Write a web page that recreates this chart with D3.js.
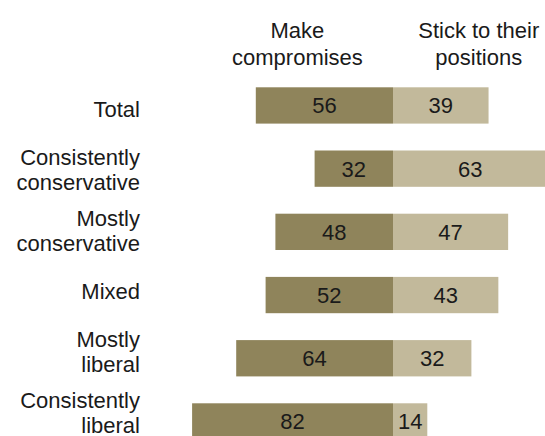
<!DOCTYPE html>
<html>
<head>
  <meta charset="utf-8">
  <style>
    body { margin: 0; background: #fff; }
    svg { display: block; }
    text { font-family: "Liberation Sans", Arial, sans-serif; fill: #1a1a1a; }
  </style>
</head>
<body>
  <div id="chart"></div>
  <script src="https://d3js.org/d3.v7.min.js"></script>
  <script>
    // data
    var categories = ["Total", "Consistently\nconservative", "Mostly\nconservative",
                      "Mixed", "Mostly\nliberal", "Consistently\nliberal"]
    var compromise = [56, 32, 48, 52, 64, 82]
    var stick = [39, 63, 47, 43, 32, 14]
    var headers = ["Make\ncompromises", "Stick to their\npositions"]

    var width = 545, height = 436
    var center = 393
    var fontSize = 22

    var svg = d3.select("#chart").append("svg")
        .attr("width", width)
        .attr("height", height)

    var x = d3.scaleLinear().domain([0, 100]).range([0, 245])

    var y = d3.scaleBand()
        .domain(categories)
        .range([87.3, 87.3 + 5 * 63.2 + 36.3])
        .paddingInner(0.4256)
        .paddingOuter(0)

    // labels sit on a slightly tighter grid than the bars
    var yLabel = d3.scalePoint()
        .domain(categories)
        .range([117, 420.5])

    var rows = categories.map(function (c, i) {
      return {cat: c, left: compromise[i], right: stick[i]}
    })

    var g = svg.append("g")

    // left bars (make compromises)
    g.selectAll("rect.left")
        .data(rows)
        .enter().append("rect")
        .attr("class", "left")
        .attr("x", d => center - x(d.left))
        .attr("y", d => y(d.cat))
        .attr("width", d => x(d.left))
        .attr("height", y.bandwidth())
        .attr("fill", "#8f845b")

    // right bars (stick to positions)
    g.selectAll("rect.right")
        .data(rows)
        .enter().append("rect")
        .attr("class", "right")
        .attr("x", center)
        .attr("y", d => y(d.cat))
        .attr("width", d => x(d.right))
        .attr("height", y.bandwidth())
        .attr("fill", "#c2b99b")

    // value labels
    g.selectAll("text.lv")
        .data(rows)
        .enter().append("text")
        .attr("class", "lv")
        .attr("x", d => center - x(d.left) / 2)
        .attr("y", d => y(d.cat) + y.bandwidth() / 2 + 8)
        .attr("text-anchor", "middle")
        .style("font-size", fontSize + "px")
        .text(d => d.left)

    g.selectAll("text.rv")
        .data(rows)
        .enter().append("text")
        .attr("class", "rv")
        .attr("x", d => center + x(d.right) / 2)
        .attr("y", d => y(d.cat) + y.bandwidth() / 2 + 8)
        .attr("text-anchor", "middle")
        .style("font-size", fontSize + "px")
        .text(d => d.right)

    // category labels
    var lineH = 25
    g.selectAll("text.cat")
        .data(rows)
        .enter().append("text")
        .attr("class", "cat")
        .attr("text-anchor", "end")
        .style("font-size", fontSize + "px")
        .each(function (d) {
          var lines = d.cat.split("\n")
          var first = yLabel(d.cat) - (lines.length - 1) * lineH / 2
          var t = d3.select(this)
          lines.forEach(function (l, i) {
            t.append("tspan").attr("x", 140).attr("y", first + i * lineH).text(l)
          })
        })

    // column headers
    var headX = [center - x(39), center + x(35)]
    headers.forEach(function (h, i) {
      var t = svg.append("text")
          .attr("text-anchor", "middle")
          .style("font-size", fontSize + "px")
      h.split("\n").forEach(function (l, j) {
        t.append("tspan").attr("x", headX[i]).attr("y", 38 + j * 27).text(l)
      })
    })
  </script>
</body>
</html>
